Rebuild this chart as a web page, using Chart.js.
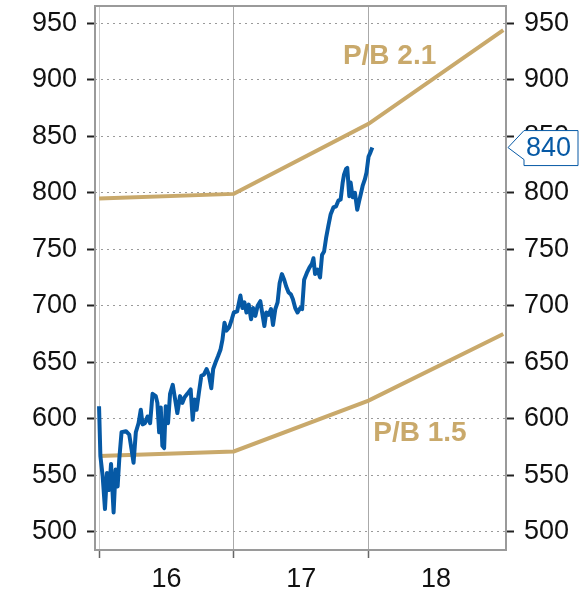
<!DOCTYPE html>
<html>
<head>
<meta charset="utf-8">
<script src="https://cdn.jsdelivr.net/npm/chart.js@4"></script>
<style>
  html, body { margin: 0; padding: 0; background: #fff; }
</style>
</head>
<body>
<canvas id="myChart" width="582" height="592"></canvas>
<script>
// index level (x = decimal year)
const indexDates = [
  2016.000, 2016.010, 2016.027, 2016.044, 2016.059, 2016.076, 2016.089, 2016.108, 2016.123, 2016.138,
  2016.150, 2016.167, 2016.200, 2016.224, 2016.241, 2016.256, 2016.273, 2016.293, 2016.310, 2016.323,
  2016.340, 2016.360, 2016.379, 2016.397, 2016.421, 2016.433, 2016.446, 2016.458, 2016.470, 2016.483,
  2016.495, 2016.512, 2016.527, 2016.547, 2016.562, 2016.581, 2016.601, 2016.618, 2016.635, 2016.655,
  2016.680, 2016.695, 2016.709, 2016.724, 2016.741, 2016.759, 2016.778, 2016.798, 2016.815, 2016.833,
  2016.847, 2016.865, 2016.882, 2016.901, 2016.916, 2016.931, 2016.946, 2016.966, 2016.985, 2017.000,
  2017.025, 2017.049, 2017.064, 2017.079, 2017.094, 2017.111, 2017.128, 2017.143, 2017.160, 2017.177,
  2017.197, 2017.209, 2017.227, 2017.241, 2017.259, 2017.276, 2017.291, 2017.308, 2017.325, 2017.340,
  2017.357, 2017.374, 2017.389, 2017.406, 2017.424, 2017.438, 2017.456, 2017.473, 2017.493, 2017.507,
  2017.522, 2017.542, 2017.562, 2017.579, 2017.591, 2017.603, 2017.621, 2017.640, 2017.655, 2017.670,
  2017.685, 2017.702, 2017.719, 2017.739, 2017.759, 2017.776, 2017.793, 2017.808, 2017.818, 2017.833,
  2017.842, 2017.857, 2017.867, 2017.882, 2017.899, 2017.916, 2017.931, 2017.943, 2017.956, 2017.973,
  2017.985, 2018.000, 2018.015, 2018.028
];
const indexValues = [
  611, 567, 549, 520, 552, 537, 560, 517, 555, 540,
  564, 588, 589, 586, 573, 561, 588, 596, 608, 595,
  596, 602, 596, 622, 620, 614, 588, 610, 576, 574,
  611, 596, 622, 630, 619, 605, 620, 614, 619, 622,
  626, 599, 617, 608, 623, 638, 639, 644, 639, 627,
  644, 650, 655, 661, 670, 685, 678, 681, 688, 694,
  695, 709, 698, 703, 694, 701, 688, 698, 691, 700,
  704, 695, 682, 694, 692, 697, 683, 697, 703, 720,
  728, 723, 717, 712, 710, 706, 698, 694, 698, 697,
  723, 729, 734, 737, 742, 728, 732, 725, 745, 748,
  760, 771, 781, 787, 788, 793, 794, 809, 816, 821,
  822, 797, 809, 796, 800, 785, 793, 799, 806, 812,
  818, 832, 836, 840
];

// P/B bands at year starts
const bandYears = [2016, 2017, 2018, 2019];
const pb21Values = [795, 799, 861, 944];
const pb15Values = [567, 571, 616, 675];
const bandLabels = ['P/B 2.1', 'P/B 1.5'];

const yTicks = [500, 550, 600, 650, 700, 750, 800, 850, 900, 950];
const xTicks = [2016, 2017, 2018, 2019];
const yearLabels = ['16', '17', '18'];

const blue = '#0659a5';
const gold = '#c9a96b';
const tickFont = { family: '"Liberation Sans", Arial, sans-serif', size: 27 };

const toPoints = (xs, ys) => xs.map((x, i) => ({ x: x, y: ys[i] }));

const overlay = {
  id: 'overlay',
  afterDraw(chart) {
    const { ctx, chartArea: a, scales } = chart;
    ctx.save();
    // frame
    ctx.strokeStyle = '#9a9a9a';
    ctx.lineWidth = 2;
    ctx.strokeRect(a.left, a.top, a.right - a.left, a.bottom - a.top);

    // band labels
    ctx.font = 'bold 28px "Liberation Sans", Arial, sans-serif';
    ctx.fillStyle = gold;
    ctx.textAlign = 'center';
    ctx.textBaseline = 'middle';
    ctx.fillText(bandLabels[0], scales.x.getPixelForValue(2018.156), scales.y.getPixelForValue(921));
    ctx.fillText(bandLabels[1], scales.x.getPixelForValue(2018.381), scales.y.getPixelForValue(587));

    // last value tag
    const last = indexValues[indexValues.length - 1];
    const py = scales.y2.getPixelForValue(last);
    const tip = a.right + 2;
    ctx.beginPath();
    ctx.moveTo(tip, py);
    ctx.lineTo(tip + 16, py - 17);
    ctx.lineTo(578, py - 17);
    ctx.lineTo(578, py + 18);
    ctx.lineTo(tip + 16, py + 18);
    ctx.lineTo(tip + 16, py + 12);
    ctx.closePath();
    ctx.fillStyle = '#fff';
    ctx.fill();
    ctx.strokeStyle = blue;
    ctx.lineWidth = 1;
    ctx.stroke();
    ctx.font = '27px "Liberation Sans", Arial, sans-serif';
    ctx.fillStyle = blue;
    ctx.textAlign = 'left';
    ctx.fillText(String(last), tip + 18, py + 1);
    ctx.restore();
  }
};

const yAxis = (pos, width) => ({
  type: 'linear',
  position: pos,
  min: 483.8,
  max: 965.3,
  afterBuildTicks: s => { s.ticks = yTicks.map(v => ({ value: v })); },
  afterFit: s => { s.width = width; s.paddingTop = 0; s.paddingBottom = 0; },
  grid: {
    display: true,
    drawOnChartArea: pos === 'left',
    color: '#9a9a9a',
    lineWidth: 1,
    tickLength: 8,
    tickColor: '#222',
    tickWidth: 2
  },
  border: { display: false, dash: [2, 4] },
  ticks: { color: '#111', font: tickFont, padding: 10 }
});

new Chart(document.getElementById('myChart').getContext('2d'), {
  type: 'line',
  data: {
    datasets: [
      {
        label: 'Index',
        data: toPoints(indexDates, indexValues),
        borderColor: blue,
        borderWidth: 4,
        pointRadius: 0,
        tension: 0,
        borderJoinStyle: 'round'
      },
      {
        label: bandLabels[0],
        data: toPoints(bandYears, pb21Values),
        borderColor: gold,
        borderWidth: 4,
        pointRadius: 0,
        tension: 0
      },
      {
        label: bandLabels[1],
        data: toPoints(bandYears, pb15Values),
        borderColor: gold,
        borderWidth: 4,
        pointRadius: 0,
        tension: 0
      }
    ]
  },
  options: {
    responsive: false,
    animation: false,
    layout: { padding: { top: 6, left: 0, right: 0, bottom: 0 } },
    plugins: { legend: { display: false }, tooltip: { enabled: false } },
    scales: {
      x: {
        type: 'linear',
        min: 2015.970,
        max: 2019.020,
        afterBuildTicks: s => { s.ticks = xTicks.map(v => ({ value: v })); },
        afterFit: s => { s.height = 42; s.paddingLeft = 0; s.paddingRight = 0; },
        grid: {
          color: ctx => {
            const v = ctx.tick && ctx.tick.value;
            if (v === 2019) return 'rgba(0,0,0,0)';
            return v === 2016 ? '#cccccc' : '#aaaaaa';
          },
          lineWidth: 1,
          tickLength: 8,
          tickWidth: 1.5,
          tickColor: ctx => (ctx.tick && ctx.tick.value === 2019) ? 'rgba(0,0,0,0)' : '#666'
        },
        border: { display: false },
        ticks: {
          color: '#111',
          font: tickFont,
          padding: 5,
          labelOffset: 67.4,
          maxRotation: 0,
          autoSkip: false,
          callback: v => yearLabels[xTicks.indexOf(v)] || ''
        }
      },
      y: yAxis('left', 95),
      y2: yAxis('right', 76)
    }
  },
  plugins: [overlay]
});
</script>
</body>
</html>
